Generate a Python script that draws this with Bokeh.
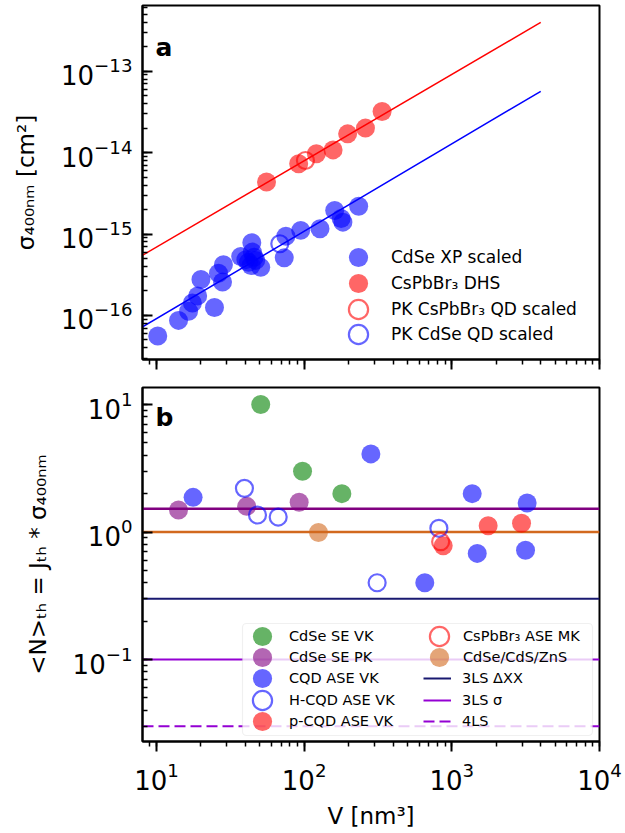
from bokeh.plotting import figure
from bokeh.layouts import column
from bokeh.models import Range1d, Legend, LegendItem, Label, BoxAnnotation
from bokeh.embed import file_html
from bokeh.resources import INLINE

FONT = "DejaVu Sans"

# ---------------- data ----------------
# shared volume axis
v_range = [8.04, 1.0e4]

# panel a: absorption cross-section at 400 nm vs. volume
cdse_xp_v = [10.2, 14.1, 16.5, 17.5, 19.0, 20.0, 24.7, 26.3, 28.0, 28.4, 37.2, 40.3,
             42.0, 43.7, 44.2, 44.6, 45.8, 47.0, 50.8, 73.3, 75.2, 94.8, 128, 161,
             178, 183, 234]
cdse_xp_sigma = [5.6e-17, 8.7e-17, 1.13e-16, 1.42e-16, 1.74e-16, 2.76e-16, 1.25e-16,
                 3.3e-16, 2.58e-16, 4.2e-16, 5.3e-16, 4.85e-16, 4.5e-16, 4.1e-16,
                 7.8e-16, 6.0e-16, 5.2e-16, 4.75e-16, 3.9e-16, 5.1e-16, 9.4e-16,
                 1.11e-15, 1.16e-15, 1.95e-15, 1.55e-15, 1.4e-15, 2.2e-15]
cspbbr3_dhs_v = [55.6, 91.8, 121, 157, 197, 260, 337]
cspbbr3_dhs_sigma = [4.35e-15, 7.3e-15, 9.7e-15, 1.08e-14, 1.7e-14, 2.0e-14, 3.2e-14]
pk_cspbbr3_v = [102]
pk_cspbbr3_sigma = [8.0e-15]
pk_cdse_v = [68.4]
pk_cdse_sigma = [7.6e-16]

# power-law fits sigma = A * V**b
fit_v = [8.0, 4000.0]
fit_cspbbr3 = (6.03e-17, 1.06)
fit_cdse = (7.73e-18, 1.073)

# panel b: threshold occupancy vs. volume
cdse_se_vk_v = [50.8, 97.5, 180]
cdse_se_vk_n = [10.0, 3.0, 2.0]
cdse_se_pk_v = [14.1, 40.8, 92.5]
cdse_se_pk_n = [1.49, 1.59, 1.71]
cqd_ase_v = [17.7, 283, 656, 1374, 1486, 3236, 3155]
cqd_ase_n = [1.87, 4.1, 0.40, 2.0, 0.68, 1.69, 0.72]
hcqd_ase_v = [39.4, 48.3, 66.7, 312, 817]
hcqd_ase_n = [2.2, 1.36, 1.31, 0.40, 1.07]
pcqd_ase_v = [874, 1762, 2965]
pcqd_ase_n = [0.78, 1.12, 1.17]
cspbbr3_mk_v = [840]
cspbbr3_mk_n = [0.84]
core_shell_v = [125]
core_shell_n = [0.99]

# model levels
level_purple = 1.52
level_orange = 1.0
level_3ls_dxx = 0.30
level_3ls_sigma = 0.10
level_4ls = 0.03


def style(p):
    p.xgrid.visible = False
    p.ygrid.visible = False
    p.outline_line_color = "black"
    p.outline_line_width = 2
    p.background_fill_color = "white"
    p.border_fill_color = "white"
    for ax in (p.xaxis[0], p.yaxis[0]):
        ax.axis_line_width = 2
        ax.axis_line_color = "black"
        ax.major_tick_line_width = 2
        ax.minor_tick_line_width = 1.5
        ax.major_tick_line_color = "black"
        ax.minor_tick_line_color = "black"
        ax.major_label_text_font = FONT
        ax.major_label_text_font_size = "26px"
        ax.major_label_text_color = "black"
        ax.axis_label_text_font = FONT
        ax.axis_label_text_font_size = "23px"
        ax.axis_label_text_font_style = "normal"
        ax.axis_label_text_color = "black"
    xa, ya = p.xaxis[0], p.yaxis[0]
    xa.major_tick_out, xa.major_tick_in = 10, 0
    xa.minor_tick_out, xa.minor_tick_in = 5, 0
    ya.major_tick_in, ya.major_tick_out = 10, 0
    ya.minor_tick_in, ya.minor_tick_out = 5, 0
    ya.major_label_standoff = 10
    ya.axis_label_standoff = 19
    xa.major_label_standoff = 10
    xa.axis_label_standoff = 10


GLYPH_BOX = 48  # legend marker size is 0.4 of the glyph box


def add_legend_column(p, entries, x, first_center, pitch, glyph_w, standoff, font_size):
    """One single-entry legend per row, so rows can sit closer than the glyph box."""
    for i, (label, renderer) in enumerate(entries):
        center = first_center - i * pitch
        p.add_layout(Legend(items=[LegendItem(label=label, renderers=[renderer])],
                            location=(x, center - GLYPH_BOX / 2),
                            glyph_width=glyph_w, glyph_height=GLYPH_BOX,
                            label_standoff=standoff, padding=0, margin=0, spacing=0,
                            border_line_alpha=0, background_fill_alpha=0,
                            label_text_font=FONT, label_text_font_size=font_size,
                            label_text_color="black"))


MS = 19

# ---------------- panel a ----------------
pa = figure(width=625, height=373, x_axis_type="log", y_axis_type="log",
            x_range=Range1d(*v_range), y_range=Range1d(2.88e-17, 6.41e-13),
            output_backend="svg", toolbar_location=None,
            min_border_left=142, min_border_right=26, min_border_top=5, min_border_bottom=14)
style(pa)
pa.xaxis.major_label_text_font_size = "2px"
pa.xaxis.major_label_text_alpha = 0
pa.xaxis.major_label_standoff = 0
pa.yaxis.axis_label = "σ₄₀₀ₙₘ [cm²]"

def powerlaw(fit, vs):
    a, b = fit
    return [a * v ** b for v in vs]

pa.line(fit_v, powerlaw(fit_cspbbr3, fit_v), line_color="red", line_width=1.5)
pa.line(fit_v, powerlaw(fit_cdse, fit_v), line_color="blue", line_width=1.5)
ra1 = pa.scatter(cdse_xp_v, cdse_xp_sigma, marker="circle", size=MS,
                 fill_color="blue", fill_alpha=0.6, line_color=None)
ra2 = pa.scatter(cspbbr3_dhs_v, cspbbr3_dhs_sigma, marker="circle", size=MS,
                 fill_color="red", fill_alpha=0.6, line_color=None)
ra3 = pa.scatter(pk_cspbbr3_v, pk_cspbbr3_sigma, marker="circle", size=MS - 2,
                 fill_color=None, line_color="red", line_alpha=0.6, line_width=2.2)
ra4 = pa.scatter(pk_cdse_v, pk_cdse_sigma, marker="circle", size=MS - 2,
                 fill_color=None, line_color="blue", line_alpha=0.6, line_width=2.2)

add_legend_column(pa, [("CdSe XP scaled", ra1),
                       ("CsPbBr₃ DHS", ra2),
                       ("PK CsPbBr₃ QD scaled", ra3),
                       ("PK CdSe QD scaled", ra4)],
                  192, 102.3, 25.9, GLYPH_BOX, 9, "17px")
pa.add_layout(Label(x=13, y=312, x_units="screen", y_units="screen", text="a",
                    text_font=FONT, text_font_size="25px", text_font_style="bold",
                    text_baseline="alphabetic", text_color="black"))

# ---------------- panel b ----------------
pb = figure(width=625, height=460, x_axis_type="log", y_axis_type="log",
            x_range=Range1d(*v_range), y_range=Range1d(0.02275, 13.6),
            output_backend="svg", toolbar_location=None,
            min_border_left=142, min_border_right=26, min_border_top=14, min_border_bottom=92)
style(pb)
pb.xaxis.axis_label = "V [nm³]"
pb.yaxis.axis_label = "<N>ₜₕ = Jₜₕ * σ₄₀₀ₙₘ"

def hline(level, **kw):
    return pb.line(v_range, [level, level], **kw)

hline(level_purple, line_color="purple", line_width=2.5)
hline(level_orange, line_color="chocolate", line_width=2.5)
rl1 = hline(level_3ls_dxx, line_color="#191970", line_width=2)
rl2 = hline(level_3ls_sigma, line_color="darkviolet", line_width=2)
rl3 = hline(level_4ls, line_color="darkviolet", line_width=2, line_dash="11 5")

rb1 = pb.scatter(cdse_se_vk_v, cdse_se_vk_n, marker="circle", size=MS,
                 fill_color="green", fill_alpha=0.6, line_color=None)
rb2 = pb.scatter(cdse_se_pk_v, cdse_se_pk_n, marker="circle", size=MS,
                 fill_color="purple", fill_alpha=0.6, line_color=None)
rb3 = pb.scatter(cqd_ase_v, cqd_ase_n, marker="circle", size=MS,
                 fill_color="blue", fill_alpha=0.6, line_color=None)
rb4 = pb.scatter(hcqd_ase_v, hcqd_ase_n, marker="circle", size=MS - 2,
                 fill_color=None, line_color="blue", line_alpha=0.6, line_width=2.2)
rb5 = pb.scatter(pcqd_ase_v, pcqd_ase_n, marker="circle", size=MS,
                 fill_color="red", fill_alpha=0.6, line_color=None)
rb6 = pb.scatter(cspbbr3_mk_v, cspbbr3_mk_n, marker="circle", size=MS - 2,
                 fill_color=None, line_color="red", line_alpha=0.6, line_width=2.2)
rb7 = pb.scatter(core_shell_v, core_shell_n, marker="circle", size=MS,
                 fill_color="chocolate", fill_alpha=0.6, line_color=None)

# legend frame, then its two columns
pb.add_layout(BoxAnnotation(left=100, right=450, bottom=6, top=118,
                            left_units="screen", right_units="screen",
                            bottom_units="screen", top_units="screen",
                            fill_color="white", fill_alpha=0.8,
                            line_color="#cccccc", line_width=1.2, border_radius=4))
ROW_PITCH_B = 21.3
add_legend_column(pb, [("CdSe SE VK", rb1),
                       ("CdSe SE PK", rb2),
                       ("CQD ASE VK", rb3),
                       ("H-CQD ASE VK", rb4),
                       ("p-CQD ASE VK", rb5)],
                  96, 105.3, ROW_PITCH_B, GLYPH_BOX, 3, "14.5px")
add_legend_column(pb, [("CsPbBr₃ ASE MK", rb6),
                       ("CdSe/CdS/ZnS", rb7)],
                  273, 105.3, ROW_PITCH_B, GLYPH_BOX, -1, "14.5px")
add_legend_column(pb, [("3LS ΔXX", rl1),
                       ("3LS σ", rl2),
                       ("4LS", rl3)],
                  281, 105.3 - 2 * ROW_PITCH_B, ROW_PITCH_B, 28, 11, "14.5px")
pb.add_layout(Label(x=13, y=324, x_units="screen", y_units="screen", text="b",
                    text_font=FONT, text_font_size="25px", text_font_style="bold",
                    text_baseline="alphabetic", text_color="black"))

layout = column(pa, pb, spacing=0)
open("out.html", "w").write(file_html(layout, INLINE))
